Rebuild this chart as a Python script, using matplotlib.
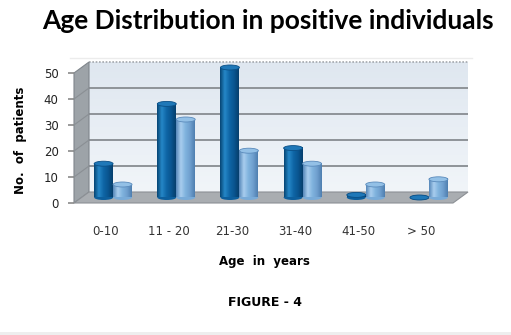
import numpy as np
import matplotlib.pyplot as plt
from matplotlib.patches import Ellipse, Polygon, Rectangle
from matplotlib.colors import LinearSegmentedColormap

# data
ages = ['0-10', '11 - 20', '21-30', '31-40', '41-50', '> 50']
series_dark = [13, 36, 50, 19, 1, 0]
series_light = [5, 30, 18, 13, 5, 7]
yticks = [0, 10, 20, 30, 40, 50]

W, H = 511, 335
fig = plt.figure(figsize=(W / 100, H / 100), dpi=100)
fig.patch.set_facecolor('white')

# front plane of the 3d box, in pixels
x_left, x_right, y_bot, y_top = 74, 453, 203, 73
dpx, dpy = 15, 11          # depth offset of the back wall
ax = fig.add_axes([x_left / W, 1 - y_bot / H,
                   (x_right + dpx - x_left) / W, (y_bot - y_top + dpy) / H])
ux = (x_right - x_left) / 6.0
uy = (y_bot - y_top) / 50.0
DX = dpx / ux
DY = dpy / uy

# back wall with soft gradient
wall = LinearSegmentedColormap.from_list('wall', ['#f1f5f9', '#dfe7f0'])
ax.imshow(np.linspace(0, 1, 64).reshape(-1, 1), cmap=wall, origin='lower',
          extent=(-0.5 + DX, 5.5 + DX, DY, 50 + DY), aspect='auto', zorder=0)
for v in yticks[1:-1]:
    ax.plot([-0.5 + DX, 5.5 + DX], [v + DY, v + DY], color='#8e9398', lw=1.4, zorder=1)
    ax.plot([-0.5, -0.5 + DX], [v, v + DY], color='#8a8f94', lw=0.8, zorder=2, clip_on=False)
ax.plot([-0.5 + DX, 5.5 + DX], [50 + DY, 50 + DY], color='#a4a8ad', lw=1.2,
        ls=(0, (1, 1)), zorder=1, clip_on=False)

# left side wall
ax.add_patch(Polygon([(-0.5, 0), (-0.5, 50), (-0.5 + DX, 50 + DY), (-0.5 + DX, DY)],
                     closed=True, facecolor='#9da3a8', edgecolor='#80868c', lw=0.8,
                     zorder=1.5, clip_on=False))
# floor
ax.add_patch(Polygon([(-0.5, 0), (5.5, 0), (5.5 + DX, DY), (-0.5 + DX, DY)],
                     closed=True, facecolor='#a9adb1', edgecolor='#8c9095', lw=0.8,
                     zorder=1.5, clip_on=False))

# cylinders
bw = 0.3
eh = 5.0 / uy
grad = np.linspace(0, 1, 64).reshape(1, -1)
styles = [
    (series_dark, -bw / 2,
     LinearSegmentedColormap.from_list('d', ['#064574', '#2688c8', '#0f66a6', '#0a5590', '#063f6c']),
     '#1f78b8', '#0a4f86'),
    (series_light, bw / 2,
     LinearSegmentedColormap.from_list('l', ['#5688ba', '#a9cdee', '#80b3de', '#6f9fce', '#4f7fb0']),
     '#93c0e6', '#5a8abb'),
]
for k, (vals, off, cmap, top, rim) in enumerate(styles):
    for i, v in enumerate(vals):
        xc = i + off + DX / 2
        y0 = DY / 2
        z = 3 + k
        ax.add_patch(Ellipse((xc, y0), bw, eh, facecolor=cmap(0.6), edgecolor='none',
                             zorder=z - 0.1))
        if v > 0:
            ax.imshow(grad, cmap=cmap, extent=(xc - bw / 2, xc + bw / 2, y0, y0 + v),
                      aspect='auto', interpolation='bilinear', zorder=z)
        ax.add_patch(Ellipse((xc, y0 + v), bw, eh, facecolor=top, edgecolor=rim,
                             lw=0.6, zorder=z + 0.1))

ax.set_xlim(-0.5, 5.5 + DX)
ax.set_ylim(0, 50 + DY)
ax.patch.set_visible(False)
for s in ax.spines.values():
    s.set_visible(False)
ax.set_xticks(range(len(ages)), ages)
ax.set_yticks(yticks)
ax.tick_params(axis='x', length=0, pad=16, labelsize=8.5, labelcolor='#333333')
ax.tick_params(axis='y', length=4, width=1.2, color='#8a8a8a', pad=7,
               labelsize=8.5, labelcolor='#222222')

fig.text(268 / W, 1 - 29 / H, 'Age Distribution in positive individuals',
         ha='center', va='baseline', fontsize=19, fontweight='bold', family='Lato')
fig.text(21 / W, 1 - 140 / H, 'No.  of  patients', rotation=90, ha='center',
         va='center', fontsize=8.5, fontweight='bold')
fig.text(264 / W, 1 - 262 / H, 'Age  in  years', ha='center', va='center',
         fontsize=8.5, fontweight='bold')
fig.text(265 / W, 1 - 302 / H, 'FIGURE - 4', ha='center', va='center',
         fontsize=9, fontweight='bold', family=['Liberation Sans Narrow', 'DejaVu Sans'])

# faint frame line and bottom band
fig.add_artist(plt.Line2D([70 / W, 472 / W], [1 - 58 / H, 1 - 58 / H],
                          color='#ececec', lw=1))
fig.add_artist(Rectangle((0, 0), 1, 3 / H, transform=fig.transFigure,
                         facecolor='#eeeeee', edgecolor='none'))

fig.savefig('out.png', dpi=100)
